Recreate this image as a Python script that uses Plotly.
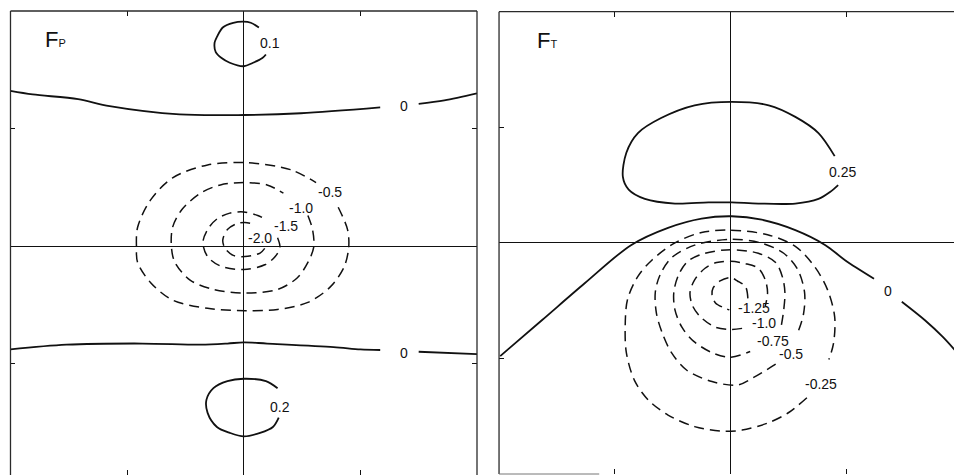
import plotly.graph_objects as go

INK = "#111111"
FONT = "Liberation Sans"

# ---------------------------------------------------------------------------
# Contour lines of the two fields, as (x, y) vertices in axis units
# (ticks at +/-1, panel frame at +/-2).  None breaks a line for its label.
# ---------------------------------------------------------------------------

# F_P panel
fp_pos_01 = [(0.13, 1.86), (0.06, 1.90), (0.00, 1.91), (-0.09, 1.90), (-0.18, 1.86),
             (-0.23, 1.78), (-0.25, 1.73), (-0.24, 1.65), (-0.19, 1.60), (-0.12, 1.56),
             (0.00, 1.53), (0.08, 1.56), (0.16, 1.60), (0.19, 1.63)]
fp_zero_upper = [(-2.0, 1.32), (-1.81, 1.29), (-1.42, 1.25), (-1.15, 1.19), (-0.55, 1.12),
                 (0.00, 1.115), (0.49, 1.13), (1.17, 1.18), (None, None),
                 (1.50, 1.21), (1.72, 1.24), (2.0, 1.30)]
fp_zero_lower = [(-2.0, -0.88), (-1.52, -0.84), (-0.87, -0.83), (-0.37, -0.84), (-0.14, -0.83),
                 (0.00, -0.82), (0.20, -0.83), (0.77, -0.86), (1.00, -0.88), (1.17, -0.885),
                 (None, None), (1.50, -0.90), (2.0, -0.92)]
fp_pos_02 = [(0.29, -1.21), (0.19, -1.15), (0.00, -1.13), (-0.14, -1.15), (-0.26, -1.21),
             (-0.32, -1.31), (-0.31, -1.42), (-0.23, -1.54), (-0.12, -1.59), (0.00, -1.62),
             (0.14, -1.59), (0.25, -1.54), (0.30, -1.46)]
fp_neg_05 = [(0.81, 0.33), (0.89, 0.14), (0.90, -0.01), (0.86, -0.18), (0.74, -0.35),
             (0.55, -0.48), (0.29, -0.54), (0.01, -0.55), (-0.31, -0.53), (-0.61, -0.46),
             (-0.80, -0.31), (-0.91, -0.14), (-0.92, -0.01), (-0.91, 0.16), (-0.80, 0.39),
             (-0.61, 0.58), (-0.31, 0.69), (0.01, 0.71), (0.40, 0.65), (0.62, 0.54)]
fp_neg_10 = [(0.55, 0.26), (0.59, 0.14), (0.60, -0.01), (0.55, -0.14), (0.46, -0.27),
             (0.29, -0.37), (0.01, -0.40), (-0.26, -0.37), (-0.46, -0.29), (-0.59, -0.14),
             (-0.62, -0.01), (-0.61, 0.16), (-0.53, 0.31), (-0.37, 0.45), (-0.20, 0.52),
             (0.01, 0.54), (0.20, 0.52), (0.34, 0.45)]
fp_neg_15 = [(0.29, 0.07), (0.31, -0.01), (0.27, -0.09), (0.18, -0.16), (0.00, -0.20),
             (-0.20, -0.17), (-0.31, -0.09), (-0.35, 0.03), (-0.31, 0.14), (-0.23, 0.23),
             (-0.12, 0.28), (0.00, 0.29), (0.12, 0.26), (0.18, 0.23)]
fp_neg_20 = [(0.18, -0.02), (0.14, -0.06), (0.01, -0.09), (-0.09, -0.08), (-0.16, -0.02),
             (-0.18, 0.05), (-0.14, 0.14), (-0.06, 0.19), (0.01, 0.20), (0.07, 0.19)]

# F_T panel
ft_pos_025 = [(0.90, 0.75), (0.76, 0.95), (0.56, 1.09), (0.33, 1.19), (0.01, 1.22),
              (-0.31, 1.19), (-0.60, 1.08), (-0.80, 0.95), (-0.90, 0.78), (-0.93, 0.57),
              (-0.88, 0.46), (-0.74, 0.38), (-0.48, 0.34), (-0.19, 0.35), (0.01, 0.35),
              (0.24, 0.34), (0.56, 0.34), (0.76, 0.38), (0.86, 0.44), (0.93, 0.50)]
ft_zero = [(-1.99, -0.98), (-1.63, -0.67), (-1.26, -0.35), (-0.86, -0.02), (-0.54, 0.13),
           (-0.25, 0.21), (0.01, 0.23), (0.27, 0.20), (0.56, 0.11), (0.82, -0.02),
           (0.99, -0.15), (1.24, -0.31), (None, None),
           (1.48, -0.51), (1.68, -0.67), (1.83, -0.81), (1.94, -0.93)]
ft_neg_025 = [(0.66, -1.34), (0.50, -1.47), (0.32, -1.56), (0.10, -1.62), (-0.07, -1.63),
              (-0.31, -1.59), (-0.54, -1.49), (-0.71, -1.36), (-0.83, -1.19), (-0.90, -0.95),
              (-0.91, -0.73), (-0.89, -0.49), (-0.80, -0.29), (-0.68, -0.15), (-0.48, 0.00),
              (-0.25, 0.09), (0.00, 0.11), (0.32, 0.07), (0.56, -0.03), (0.73, -0.21),
              (0.84, -0.41), (0.90, -0.64), (0.89, -0.87), (0.85, -1.01)]
ft_neg_05 = [(0.39, -1.05), (0.19, -1.17), (0.06, -1.23), (-0.16, -1.20), (-0.38, -1.10),
             (-0.51, -0.95), (-0.59, -0.78), (-0.64, -0.61), (-0.65, -0.43), (-0.61, -0.28),
             (-0.51, -0.13), (-0.31, -0.02), (0.00, 0.03), (0.26, 0.00), (0.46, -0.09),
             (0.58, -0.23), (0.64, -0.43), (0.63, -0.62), (0.58, -0.78)]
ft_neg_075 = [(0.44, -0.71), (0.46, -0.58), (0.47, -0.43), (0.45, -0.30), (0.39, -0.17),
              (0.24, -0.09), (0.00, -0.06), (-0.22, -0.09), (-0.37, -0.16), (-0.45, -0.28),
              (-0.49, -0.43), (-0.48, -0.58), (-0.42, -0.73), (-0.32, -0.85), (-0.16, -0.95),
              (0.00, -0.99), (0.17, -0.94)]
ft_neg_10 = [(0.10, -0.74), (0.01, -0.75), (-0.13, -0.73), (-0.26, -0.64), (-0.33, -0.54),
             (-0.35, -0.43), (-0.31, -0.32), (-0.22, -0.22), (-0.12, -0.17), (0.00, -0.16),
             (0.13, -0.18), (0.24, -0.22), (0.30, -0.32), (0.32, -0.43), (0.30, -0.55)]
ft_neg_125 = [(0.15, -0.48), (0.13, -0.38), (0.06, -0.33), (0.00, -0.30), (-0.09, -0.33),
              (-0.15, -0.39), (-0.16, -0.45), (-0.13, -0.52), (-0.06, -0.56), (-0.01, -0.58)]

# Contour level of each line
fp_contours = [(0.1, fp_pos_01), (0.0, fp_zero_upper), (-0.5, fp_neg_05), (-1.0, fp_neg_10),
               (-1.5, fp_neg_15), (-2.0, fp_neg_20), (0.0, fp_zero_lower), (0.2, fp_pos_02)]
ft_contours = [(0.25, ft_pos_025), (0.0, ft_zero), (-1.25, ft_neg_125), (-1.0, ft_neg_10),
               (-0.75, ft_neg_075), (-0.5, ft_neg_05), (-0.25, ft_neg_025)]

# Where each level label sits (same order as the contour lists)
fp_label_xy = [(0.12, 1.73, "left"), (1.37, 1.19, "center"), (0.62, 0.46, "left"),
               (0.37, 0.32, "left"), (0.245, 0.17, "left"), (0.02, 0.07, "left"),
               (1.37, -0.91, "center"), (0.21, -1.37, "left")]
ft_label_xy = [(0.83, 0.61, "left"), (1.36, -0.42, "center"), (0.05, -0.56, "left"),
               (0.17, -0.69, "left"), (0.21, -0.85, "left"), (0.40, -0.96, "left"),
               (0.63, -1.22, "left")]


def level_text(v):
    if v == 0:
        return "0"
    s = f"{abs(v):.2f}".rstrip("0")
    if s.endswith("."):
        s += "0"
    return ("-" if v < 0 else "") + s


fig = go.Figure()


def draw_panel(contours, labels, xa, ya):
    for (level, pts), (lx, ly, anchor) in zip(contours, labels):
        xs = [p[0] for p in pts]
        ys = [p[1] for p in pts]
        negative = level < 0
        fig.add_trace(go.Scatter(
            x=xs, y=ys, xaxis=xa, yaxis=ya, mode="lines",
            line=dict(color=INK, width=1.5 if negative else 1.8,
                      dash="10px,6px" if negative else "solid",
                      shape="spline", smoothing=0.9),
            connectgaps=False, hoverinfo="skip", showlegend=False))
        fig.add_annotation(x=lx, y=ly, xref=xa, yref=ya, text=level_text(level),
                           showarrow=False, xanchor=anchor, yanchor="middle",
                           font=dict(family=FONT, size=14, color=INK))


draw_panel(fp_contours, fp_label_xy, "x", "y")
draw_panel(ft_contours, ft_label_xy, "x2", "y2")

# Panel titles
fig.add_annotation(x=-1.72, y=1.76, xref="x", yref="y", showarrow=False,
                   xanchor="left", yanchor="middle",
                   text="F<span style='font-size:11px'>P</span>",
                   font=dict(family=FONT, size=22, color=INK))
fig.add_annotation(x=-1.69, y=1.75, xref="x2", yref="y2", showarrow=False,
                   xanchor="left", yanchor="middle",
                   text="F<span style='font-size:11px'>T</span>",
                   font=dict(family=FONT, size=22, color=INK))

axis_common = dict(showgrid=False, zeroline=True, zerolinecolor=INK, zerolinewidth=1,
                   tickvals=[-1, 1], ticks="inside", ticklen=5, tickwidth=1,
                   tickcolor=INK, showticklabels=False, showline=True,
                   linecolor="rgba(0,0,0,0)", fixedrange=True)

L_X0, L_X1 = 0.011, 0.5
L_Y0, L_Y1 = 0.0, 0.9768
R_X0, R_X1 = 0.5231, 1.0
R_Y0, R_Y1 = 0.0021, 0.9754

fig.update_layout(
    width=954, height=475,
    margin=dict(l=0, r=0, t=0, b=0),
    paper_bgcolor="white", plot_bgcolor="white",
    xaxis=dict(axis_common, domain=[L_X0, L_X1], range=[-2, 2], anchor="y", mirror="ticks"),
    yaxis=dict(axis_common, domain=[L_Y0, L_Y1], range=[-1.949, 2], anchor="x", mirror="ticks"),
    xaxis2=dict(axis_common, domain=[R_X0, R_X1], range=[-2, 1.931], anchor="y2", mirror="ticks"),
    yaxis2=dict(axis_common, domain=[R_Y0, R_Y1], range=[-2, 2], anchor="x2", mirror=False),
)

# Panel frames
frame = dict(color="#2a2a2a", width=1.3)
for x0, y0, x1, y1 in [
    (L_X0, L_Y0, L_X0, L_Y1), (L_X0, L_Y1, L_X1, L_Y1), (L_X1, L_Y0, L_X1, L_Y1),
    (R_X0, R_Y0, R_X0, R_Y1), (R_X0, R_Y1, R_X1, R_Y1),
]:
    fig.add_shape(type="line", xref="paper", yref="paper",
                  x0=x0, y0=y0, x1=x1, y1=y1, line=frame)
fig.add_shape(type="line", xref="paper", yref="paper", x0=R_X0, y0=R_Y0,
              x1=R_X0 + 0.105, y1=R_Y0, line=dict(color="#777777", width=1))

fig.write_html("out.html")
